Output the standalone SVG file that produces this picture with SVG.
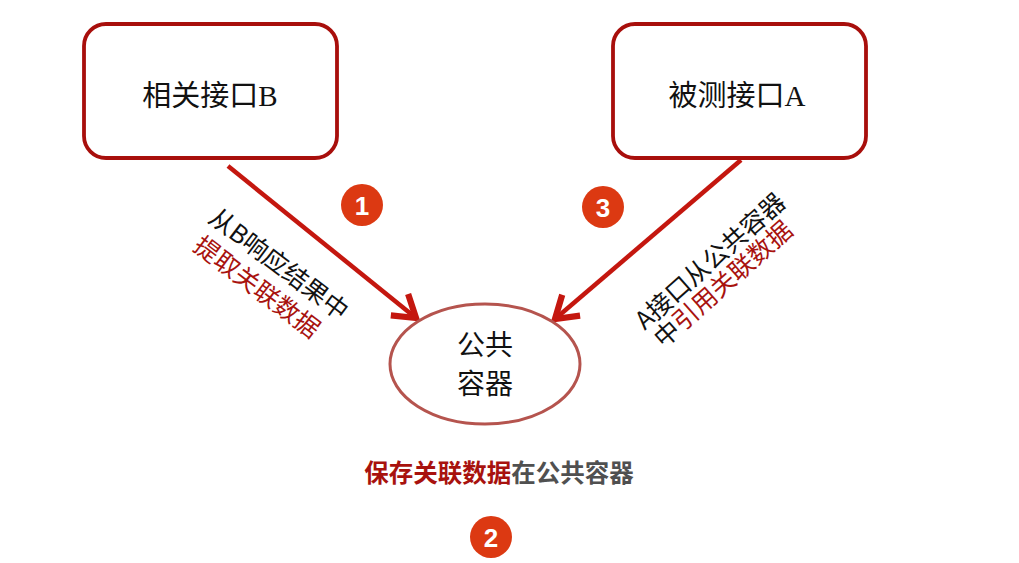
<svg xmlns="http://www.w3.org/2000/svg" width="1019" height="563" viewBox="0 0 1019 563">
<style>
.box{fill:#fff;stroke:#a80f0c;stroke-width:3.8}
.ell{fill:#fff;stroke:#b5544e;stroke-width:3}
.serif{font-family:"Liberation Serif","Noto Sans CJK SC",serif;font-size:29px;fill:#111}
.sans{font-family:"Noto Sans CJK SC","Noto Sans",sans-serif}
.rot{font-size:25px;fill:#111}
.red{fill:#a8120e}
.badge circle{fill:#dc3912}
.badge text{font-family:"Liberation Sans","Noto Sans",sans-serif;font-weight:bold;font-size:26px;fill:#fff;text-anchor:middle}
.conn{stroke:#c4170f;stroke-width:4.5;fill:none}
</style>
<defs>
<marker id="chev" markerUnits="userSpaceOnUse" orient="auto" refX="0" refY="0" markerWidth="40" markerHeight="40" viewBox="-22 -16 26 32" overflow="visible">
<path d="M-17,-11 L0,0 L-17,11" fill="none" stroke="#c4170f" stroke-width="5" stroke-linejoin="miter"/>
</marker>
</defs>
<rect width="1019" height="563" fill="#fff"/>
<g id="connectors">
<line class="conn" x1="228" y1="166" x2="416" y2="318" marker-end="url(#chev)"/>
<line class="conn" x1="741" y1="160" x2="555" y2="319" marker-end="url(#chev)"/>
</g>
<g id="nodeB">
<rect class="box" x="84" y="24" width="253" height="134" rx="22"/>
<text class="serif" x="210" y="106" text-anchor="middle">相关接口B</text>
</g>
<g id="nodeA">
<rect class="box" x="613" y="24" width="253" height="134" rx="22"/>
<text class="serif" x="737" y="106" text-anchor="middle">被测接口A</text>
</g>
<g id="container">
<ellipse class="ell" cx="485" cy="364" rx="95" ry="60"/>
<text class="sans" x="485" y="355" text-anchor="middle" font-size="28" fill="#111">公共</text>
<text class="sans" x="485" y="394" text-anchor="middle" font-size="28" fill="#111">容器</text>
</g>
<g id="label1" class="sans rot">
<text transform="translate(279,264) rotate(37)" text-anchor="middle" y="9">从B响应结果中</text>
<text class="red" transform="translate(257,287) rotate(37)" text-anchor="middle" y="9">提取关联数据</text>
</g>
<g id="label3" class="sans rot">
<text transform="translate(710,261) rotate(-41.5)" text-anchor="middle" y="9">A接口从公共容器</text>
<text transform="translate(723,284) rotate(-41.5)" text-anchor="middle" y="9">中<tspan class="red">引用关联数据</tspan></text>
</g>
<g id="label2">
<text class="sans" x="499" y="482" text-anchor="middle" font-size="24.5" font-weight="bold" fill="#505050"><tspan fill="#a8120e">保存关联数据</tspan>在公共容器</text>
</g>
<g id="badge1" class="badge"><circle cx="362" cy="205" r="21"/><text x="362" y="214.5">1</text></g>
<g id="badge3" class="badge"><circle cx="603" cy="207" r="21"/><text x="603" y="216.5">3</text></g>
<g id="badge2" class="badge"><circle cx="491" cy="537" r="21"/><text x="491" y="546.5">2</text></g>
</svg>
